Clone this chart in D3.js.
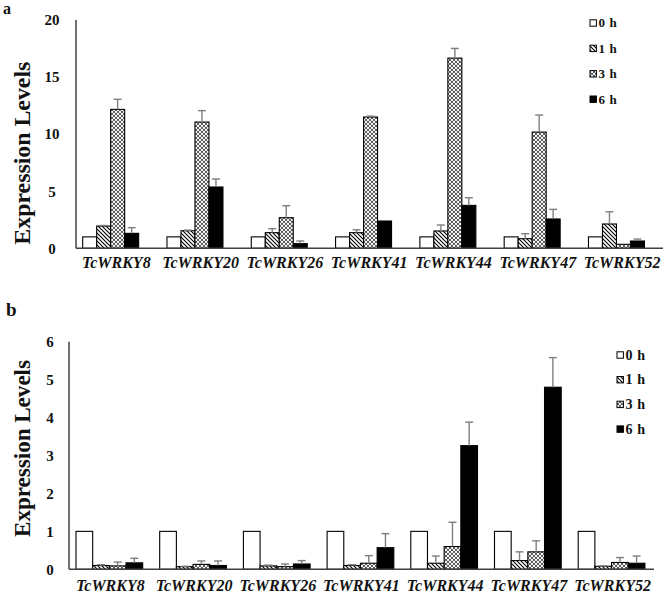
<!DOCTYPE html>
<html>
<head>
<meta charset="utf-8">
<script src="https://cdn.jsdelivr.net/npm/d3@7"></script>
<style>
  html, body { margin: 0; padding: 0; background: #fff; }
  svg { display: block; font-family: "Liberation Serif", "Times New Roman", serif; }
</style>
</head>
<body>
<svg id="chart" width="666" height="595"></svg>
<script>
// ---------- DATA ----------
const categories = ["TcWRKY8", "TcWRKY20", "TcWRKY26", "TcWRKY41", "TcWRKY44", "TcWRKY47", "TcWRKY52"];
const seriesNames = ["0 h", "1 h", "3 h", "6 h"];

// Panel a
const aTicks = [0, 5, 10, 15, 20];
const a0h = [1, 1, 1, 1, 1, 1, 1];
const a1h = [1.95, 1.54, 1.37, 1.37, 1.52, 0.84, 2.13];
const a3h = [12.17, 11.06, 2.68, 11.5, 16.66, 10.18, 0.35];
const a6h = [1.31, 5.37, 0.41, 2.39, 3.76, 2.57, 0.64];
const aErr0h = [0, 0, 0, 0, 0, 0, 0];
const aErr1h = [0.05, 0.05, 0.35, 0.25, 0.52, 0.44, 1.07];
const aErr3h = [0.88, 1.0, 1.05, 0.08, 0.85, 1.49, 0];
const aErr6h = [0.5, 0.7, 0.23, 0, 0.67, 0.84, 0.17];

// Panel b
const bTicks = [0, 1, 2, 3, 4, 5, 6];
const b0h = [1, 1, 1, 1, 1, 1, 1];
const b1h = [0.1, 0.07, 0.09, 0.1, 0.16, 0.23, 0.08];
const b3h = [0.09, 0.13, 0.07, 0.16, 0.6, 0.46, 0.18];
const b6h = [0.17, 0.1, 0.14, 0.57, 3.26, 4.8, 0.16];
const bErr0h = [0, 0, 0, 0, 0, 0, 0];
const bErr1h = [0.02, 0.01, 0.02, 0.02, 0.19, 0.23, 0.01];
const bErr3h = [0.1, 0.09, 0.07, 0.2, 0.64, 0.29, 0.13];
const bErr6h = [0.12, 0.12, 0.09, 0.37, 0.62, 0.78, 0.19];

// ---------- DRAW ----------
const svg = d3.select("#chart");
const defs = svg.append("defs");

// hatch pattern for 1 h
const hatch = defs.append("pattern").attr("id", "hatch")
  .attr("patternUnits", "userSpaceOnUse").attr("width", 4).attr("height", 4);
hatch.append("rect").attr("width", 4).attr("height", 4).attr("fill", "#fff");
hatch.append("path").attr("d", "M0,0 L4,4 M-1,3 L1,5 M3,-1 L5,1")
  .attr("stroke", "#000").attr("stroke-width", 1.1);

// dotted pattern for 3 h
const dots = defs.append("pattern").attr("id", "dots")
  .attr("patternUnits", "userSpaceOnUse").attr("width", 4).attr("height", 4);
dots.append("rect").attr("width", 4).attr("height", 4).attr("fill", "#4a4a4a");
[[0, 0], [4, 0], [0, 4], [4, 4], [2, 2]].forEach(([cx, cy]) =>
  dots.append("circle").attr("cx", cx).attr("cy", cy).attr("r", 1.15).attr("fill", "#fff"));

const fills = { "0 h": "#fff", "1 h": "url(#hatch)", "3 h": "url(#dots)", "6 h": "#000" };

function panel(cfg) {
  const { vals, errs, ticks, yMax, xRange, axisX, axisXEnd, yRange,
          groupOff, groupW, tickX, titleX, titleLen, labelY,
          legendX, legendY0, legendDy, legendFont, capW } = cfg;

  const x = d3.scaleBand().domain(categories).range(xRange).padding(0);
  const step = x.step();
  const inner = d3.scaleBand().domain(seriesNames).range([0, step * groupW]);
  const y = d3.scaleLinear().domain([0, yMax]).range(yRange);

  const g = svg.append("g");

  const data = [];
  categories.forEach((c, i) => {
    seriesNames.forEach((s, j) => {
      data.push({ cat: c, s, v: vals[j][i], e: errs[j][i] });
    });
  });

  const bx = d => x(d.cat) + step * groupOff + inner(d.s);

  // bars
  g.selectAll("rect.bar").data(data).join("rect")
    .attr("class", "bar")
    .attr("x", bx)
    .attr("width", inner.bandwidth())
    .attr("y", d => y(d.v))
    .attr("height", d => y(0) - y(d.v))
    .attr("fill", d => fills[d.s])
    .attr("stroke", "#000")
    .attr("stroke-width", 1.1);

  // error bars
  const ed = data.filter(d => d.e > 0);
  g.selectAll("line.err").data(ed).join("line")
    .attr("x1", d => bx(d) + inner.bandwidth() / 2)
    .attr("x2", d => bx(d) + inner.bandwidth() / 2)
    .attr("y1", d => y(d.v))
    .attr("y2", d => y(d.v + d.e))
    .attr("stroke", "#7f7f7f").attr("stroke-width", 1.4);
  g.selectAll("line.cap").data(ed).join("line")
    .attr("x1", d => bx(d) + inner.bandwidth() / 2 - capW / 2)
    .attr("x2", d => bx(d) + inner.bandwidth() / 2 + capW / 2)
    .attr("y1", d => y(d.v + d.e))
    .attr("y2", d => y(d.v + d.e))
    .attr("stroke", "#7f7f7f").attr("stroke-width", 1.4);

  // axes lines
  g.append("line").attr("x1", axisX).attr("x2", axisX)
    .attr("y1", y(yMax)).attr("y2", y(0))
    .attr("stroke", "#404040").attr("stroke-width", 1.5);
  g.append("line").attr("x1", axisX).attr("x2", axisXEnd)
    .attr("y1", y(0)).attr("y2", y(0))
    .attr("stroke", "#404040").attr("stroke-width", 1.5);

  // y tick labels
  const ya = g.append("g").attr("transform", `translate(${axisX},0)`)
    .call(d3.axisLeft(y).tickValues(ticks).tickSize(0).tickFormat(d3.format("d")));
  ya.select(".domain").remove();
  ya.selectAll("text")
    .attr("x", tickX - axisX)
    .attr("text-anchor", "middle")
    .attr("font-family", "Liberation Serif, serif")
    .attr("font-weight", "bold")
    .attr("font-size", 15)
    .attr("fill", "#111");

  // x category labels
  g.selectAll("text.cat").data(categories).join("text")
    .attr("x", d => x(d) + step * (groupOff + groupW / 2) + cfg.labelShift)
    .attr("y", labelY)
    .attr("text-anchor", "middle")
    .attr("font-weight", "bold")
    .attr("font-style", "italic")
    .attr("font-size", 16)
    .attr("fill", "#111")
    .text(d => d);

  // y title
  const ymid = (y(0) + y(yMax)) / 2 + cfg.titleShift;
  g.append("text")
    .attr("transform", `translate(${titleX},${ymid}) rotate(-90)`)
    .attr("text-anchor", "middle")
    .attr("font-weight", "bold")
    .attr("font-size", 23)
    .attr("textLength", titleLen)
    .attr("lengthAdjust", "spacingAndGlyphs")
    .attr("fill", "#111")
    .text("Expression Levels");

  // legend
  const lg = g.append("g");
  seriesNames.forEach((s, j) => {
    const cy = legendY0 + j * legendDy;
    lg.append("rect").attr("x", legendX).attr("y", cy - 3.2)
      .attr("width", 6.4).attr("height", 6.4)
      .attr("fill", fills[s]).attr("stroke", "#000").attr("stroke-width", 1);
    lg.append("text").attr("x", legendX + 8.5).attr("y", cy + legendFont * 0.34)
      .attr("font-weight", "bold").attr("font-size", legendFont)
      .attr("letter-spacing", 1)
      .attr("fill", "#111")
      .text(s.replace(" ", "\u2009"));
  });
}

panel({
  vals: [a0h, a1h, a3h, a6h],
  errs: [aErr0h, aErr1h, aErr3h, aErr6h],
  ticks: aTicks, yMax: 20,
  xRange: [74.5, 664.6], axisX: 76, axisXEnd: 663,
  yRange: [248.3, 20],
  groupOff: 0.097, groupW: 0.664, labelShift: 5.6,
  tickX: 52, titleX: 30, titleLen: 183, titleShift: 19,
  labelY: 268, capW: 8,
  legendX: 590, legendY0: 23, legendDy: 25.4, legendFont: 13
});

panel({
  vals: [b0h, b1h, b3h, b6h],
  errs: [bErr0h, bErr1h, bErr3h, bErr6h],
  ticks: bTicks, yMax: 6,
  xRange: [69, 654.9], axisX: 69, axisXEnd: 654,
  yRange: [569.3, 341.7],
  groupOff: 0.0836, groupW: 0.797, labelShift: 1,
  tickX: 50, titleX: 30, titleLen: 177, titleShift: -7,
  labelY: 591, capW: 8,
  legendX: 617, legendY0: 355, legendDy: 24.7, legendFont: 14
});

// panel letters
svg.append("text").attr("x", 3).attr("y", 14)
  .attr("font-weight", "bold").attr("font-size", 16).attr("fill", "#111").text("a");
svg.append("text").attr("x", 6).attr("y", 316)
  .attr("font-weight", "bold").attr("font-size", 19).attr("fill", "#111").text("b");
</script>
</body>
</html>
